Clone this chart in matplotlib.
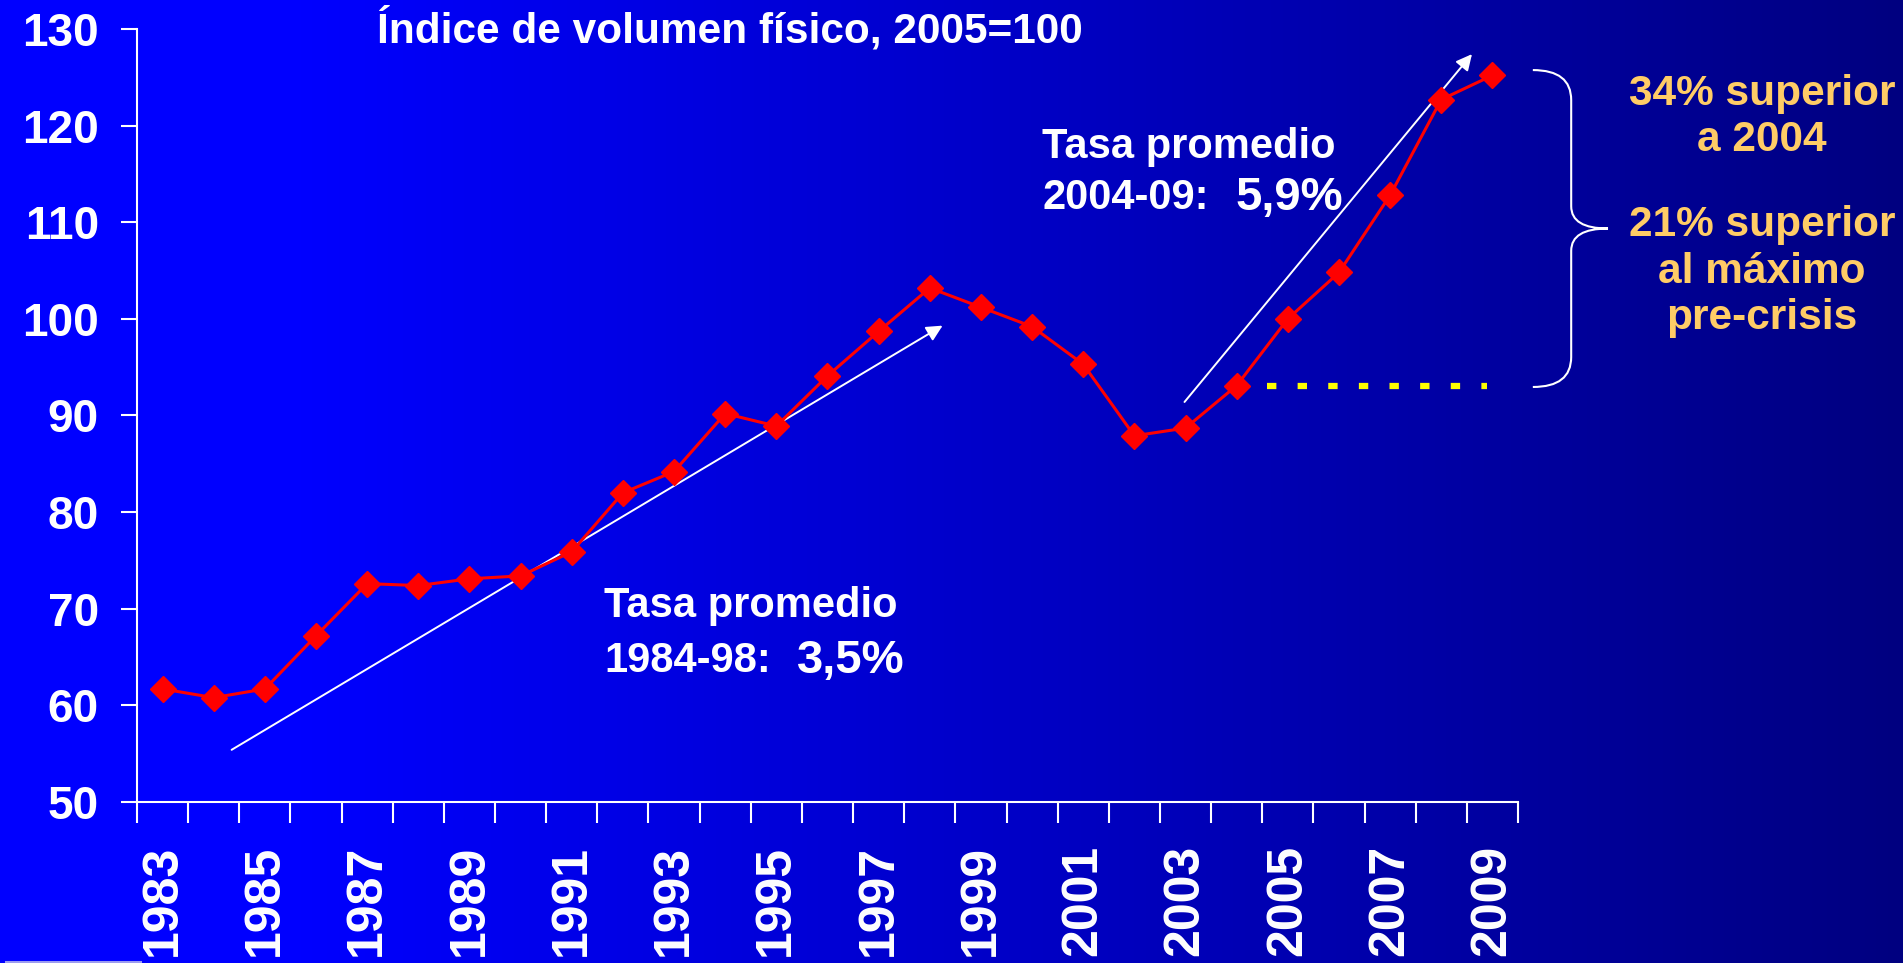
import matplotlib.pyplot as plt
import numpy as np
from matplotlib.path import Path
from matplotlib.patches import PathPatch
from matplotlib.lines import Line2D

plt.rcParams['font.family'] = ['Liberation Sans', 'DejaVu Sans']
plt.rcParams['font.weight'] = 'bold'

# datos
years = list(range(1983, 2010))
indice = [61.7, 60.8, 61.7, 67.2, 72.6, 72.4, 73.1, 73.4, 75.9, 82.0, 84.2,
          90.2, 88.9, 94.1, 98.7, 103.2, 101.2, 99.2, 95.3, 87.9, 88.7,
          93.1, 100.0, 104.8, 112.8, 122.7, 125.2]
year_labels = [str(y) if y % 2 == 1 else '' for y in years]
yticks = [50, 60, 70, 80, 90, 100, 110, 120, 130]

W, H = 1903, 963
fig = plt.figure(figsize=(W / 100, H / 100), dpi=100)

# fondo degradado azul
bg = fig.add_axes([0, 0, 1, 1], zorder=-5)
xs = np.linspace(0, W, 500)
b = np.where(xs < 300, 255, 255 - 127 * (xs - 300) / (W - 300)) / 255
grad = np.zeros((1, len(xs), 3))
grad[0, :, 2] = b
bg.imshow(grad, aspect='auto', extent=[0, 1, 0, 1])
bg.axis('off')

ax = fig.add_axes([137 / W, 161 / H, (1518 - 137) / W, (934 - 161) / H])
ax.patch.set_alpha(0)

x = np.arange(len(years))
ax.plot(x, indice, color='#ff0000', lw=2.2, marker='D', ms=13, zorder=5, clip_on=False)

ax.set_xlim(-0.5, len(years) - 0.5)
ax.set_ylim(50, 130)

ax.set_xticks(np.arange(-0.5, len(years)), labels=[''] * (len(years) + 1))
ax.set_xticks(x, labels=year_labels, minor=True)
ax.set_yticks(yticks)
ax.tick_params(axis='x', which='major', length=15, width=1.5, color='white')
ax.tick_params(axis='x', which='minor', length=0, pad=31, labelsize=36,
               labelcolor='white', labelrotation=90)
ax.tick_params(axis='y', length=11.5, width=1.5, color='white', labelcolor='white',
               labelsize=33, pad=16)
for s in ['top', 'right']:
    ax.spines[s].set_visible(False)
for s in ['left', 'bottom']:
    ax.spines[s].set_color('white')
    ax.spines[s].set_linewidth(1.5)

# titulo
ax.text(4.2, 130, 'Índice de volumen físico, 2005=100', fontsize=30.5,
        color='white', ha='left', va='center', clip_on=False)

# flechas de tendencia
arrow = dict(arrowstyle='-|>', color='white', lw=1.4, mutation_scale=24,
             shrinkA=0, shrinkB=0)
ax.annotate('', xy=(15.25, 99.3), xytext=(1.35, 55.4), arrowprops=arrow)
ax.annotate('', xy=(25.6, 127.4), xytext=(19.98, 91.4), arrowprops=arrow,
            annotation_clip=False)

# textos de tasa
ax.text(8.64, 70.3, 'Tasa promedio', fontsize=30, color='white', va='center')
ax.text(8.64, 64.6, '1984-98:', fontsize=30, color='white', va='center')
ax.text(12.41, 64.6, '3,5%', fontsize=34, color='white', va='center')
ax.text(17.2, 117.8, 'Tasa promedio', fontsize=30, color='white', va='center')
ax.text(17.2, 112.5, '2004-09:', fontsize=30, color='white', va='center')
ax.text(20.97, 112.5, '5,9%', fontsize=34, color='white', va='center')

# linea punteada amarilla al nivel de 2004
ax.plot([21.6, 25.9], [indice[21], indice[21]], color='#ffff00', lw=4.5,
        linestyle=(0, (1.5, 3.4)), dash_capstyle='butt')

# llave
top = indice[-1] + 0.55
bot = indice[21] - 0.15
tip = (top + bot) / 2
x0, x1, x2 = 26.79, 27.54, 28.26
verts = [(x0, top), (x1, top), (x1, top - 3.1),
         (x1, tip + 2.3), (x1, tip), (x2, tip),
         (x1, tip), (x1, tip - 2.3),
         (x1, bot + 3.1), (x1, bot), (x0, bot)]
codes = [Path.MOVETO, Path.CURVE3, Path.CURVE3,
         Path.LINETO, Path.CURVE3, Path.CURVE3,
         Path.CURVE3, Path.CURVE3,
         Path.LINETO, Path.CURVE3, Path.CURVE3]
ax.add_patch(PathPatch(Path(verts, codes), fill=False, edgecolor='white', lw=1.5,
                       clip_on=False))

naranja = '#ffcc66'
ax.text(31.27, 120.9, '34% superior\na 2004', fontsize=30.5, color=naranja,
        ha='center', va='center', linespacing=1.22, clip_on=False)
ax.text(31.27, 104.9, '21% superior\nal máximo\npre-crisis', fontsize=30.5,
        color=naranja, ha='center', va='center', linespacing=1.22, clip_on=False)

fig.add_artist(Line2D([0.003, 140 / W], [1.5 / H, 1.5 / H], color='#9c9cf0', lw=2.2,
                      transform=fig.transFigure))

fig.savefig('out.png', dpi=100)
